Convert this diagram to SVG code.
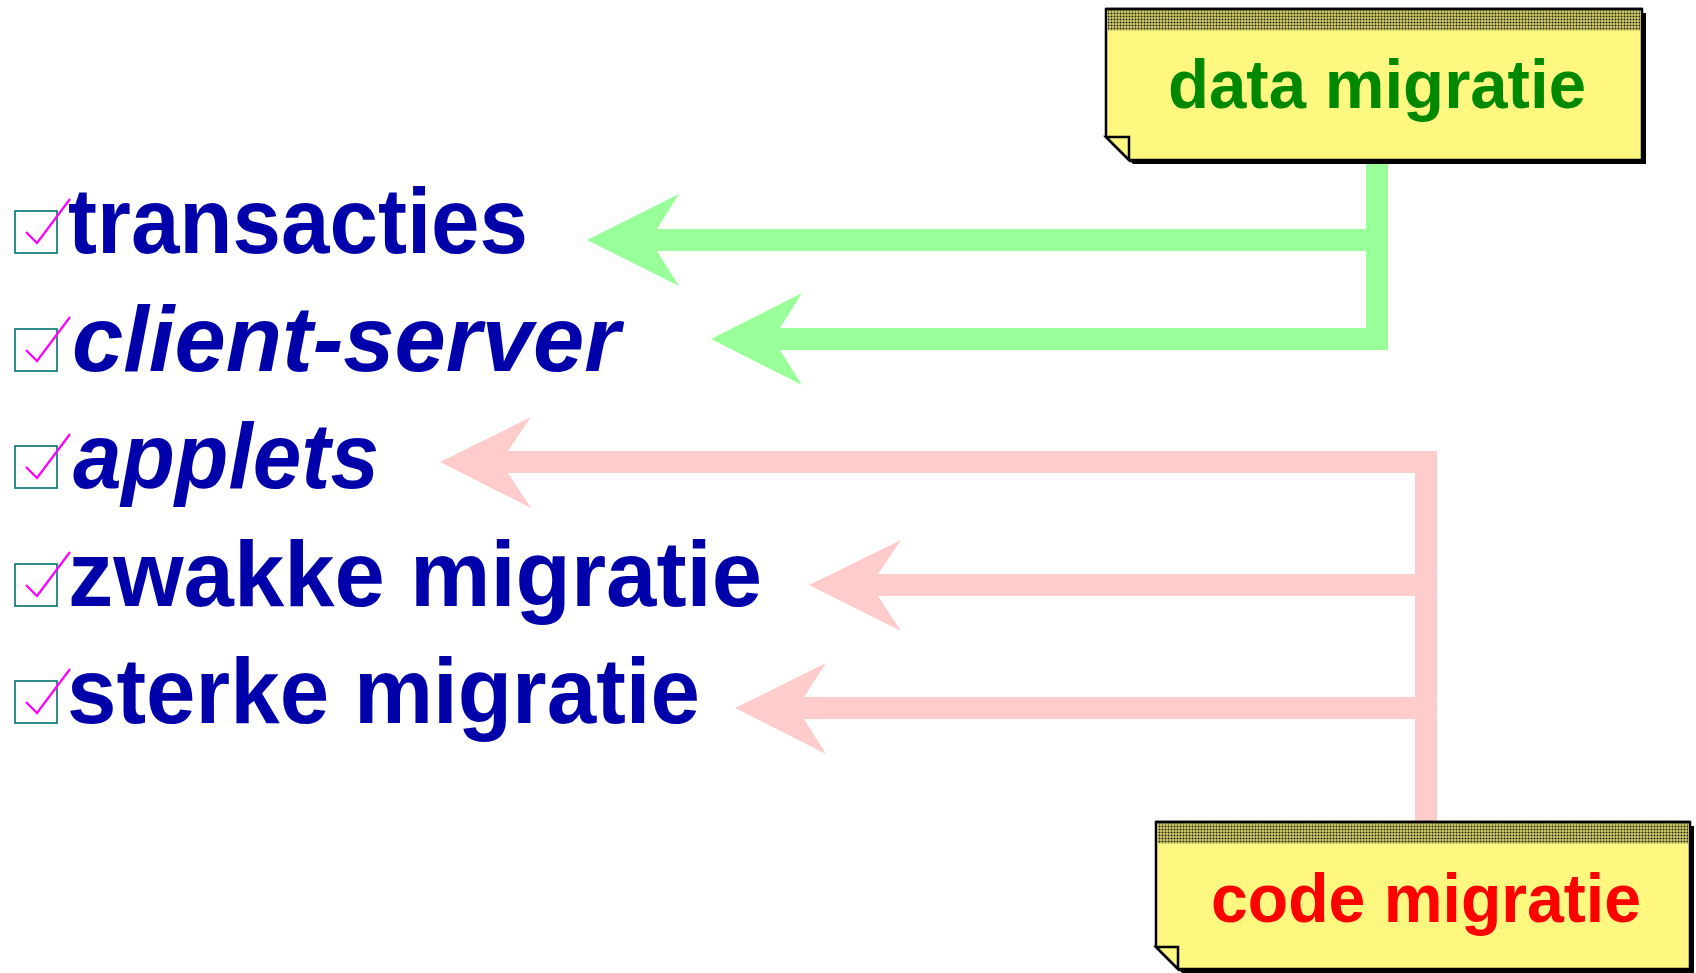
<svg xmlns="http://www.w3.org/2000/svg" width="1696" height="973" viewBox="0 0 1696 973">
  <style>
    .item { font-family: "Liberation Sans", Arial, sans-serif; font-weight: bold; font-size: 92px; fill: #0000aa; }
    .ital { font-style: italic; }
    .box { fill: none; stroke: #007070; stroke-width: 1.6; }
    .tick { fill: none; stroke: #ff00ff; stroke-width: 2.2; stroke-linejoin: miter; }
    .note { fill: #fff880; stroke: #000; stroke-width: 2.5; stroke-linejoin: miter; }
    .shadow { fill: #000; }
    .band { fill: url(#stipple); }
    .flap { fill: #fff880; stroke: #000; stroke-width: 2.5; }
    .noteText { font-family: "Liberation Sans", Arial, sans-serif; font-weight: bold; font-size: 68px; text-anchor: middle; }
    .green { fill: none; stroke: #99ff99; stroke-width: 22; stroke-linejoin: miter; stroke-linecap: butt; }
    .greenHead { fill: #99ff99; }
    .pink { fill: none; stroke: #ffcccc; stroke-width: 22; stroke-linejoin: miter; stroke-linecap: butt; }
    .pinkHead { fill: #ffcccc; }
  </style>
  <defs>
    <!-- halftone stipple for the note header band -->
    <pattern id="stipple" width="3" height="3" patternUnits="userSpaceOnUse">
      <rect width="3" height="3" fill="#fff880"/>
      <rect x="0.5" y="0.5" width="2" height="2" fill="#1a1a08"/>
    </pattern>
  </defs>

  <rect width="1696" height="973" fill="#ffffff"/>

  <!-- connectors -->
  <g id="connectors">
    <!-- data migratie branches -->
    <path class="green" d="M1377,160 V339 H779"/>
    <path class="green" d="M1377,240 H657"/>
    <polygon class="greenHead" points="587,240 679,194 657,229 657,251 679,286"/>
    <polygon class="greenHead" points="711,339 802,293 780,328 780,350 802,385"/>
    <!-- code migratie branches -->
    <path class="pink" d="M1426,822 V462 H508"/>
    <path class="pink" d="M1426,585 H878"/>
    <path class="pink" d="M1426,708 H804"/>
    <polygon class="pinkHead" points="440,462 531,417 508,451 508,473 531,508"/>
    <polygon class="pinkHead" points="809,585 901,540 878,574 878,596 901,631"/>
    <polygon class="pinkHead" points="735,708 826,663 804,697 804,719 826,754"/>
  </g>

  <!-- checklist items -->
  <g id="item-transacties">
    <rect class="box" x="15" y="211" width="42" height="42"/>
    <polyline class="tick" points="26,232 37,243 70,199"/>
    <text class="item" x="68" y="253" textLength="460" lengthAdjust="spacingAndGlyphs">transacties</text>
  </g>
  <g id="item-client-server">
    <rect class="box" x="15" y="329" width="42" height="42"/>
    <polyline class="tick" points="26,350 37,361 70,317"/>
    <text class="item ital" x="72" y="371" textLength="548" lengthAdjust="spacingAndGlyphs">client-server</text>
  </g>
  <g id="item-applets">
    <rect class="box" x="15" y="446" width="42" height="42"/>
    <polyline class="tick" points="26,467 37,478 70,434"/>
    <text class="item ital" x="73" y="488" textLength="306" lengthAdjust="spacingAndGlyphs">applets</text>
  </g>
  <g id="item-zwakke">
    <rect class="box" x="15" y="564" width="42" height="42"/>
    <polyline class="tick" points="26,585 37,596 70,552"/>
    <text class="item" x="68" y="606" textLength="694" lengthAdjust="spacingAndGlyphs">zwakke migratie</text>
  </g>
  <g id="item-sterke">
    <rect class="box" x="15" y="681" width="42" height="42"/>
    <polyline class="tick" points="26,702 37,713 70,669"/>
    <text class="item" x="67" y="723" textLength="633" lengthAdjust="spacingAndGlyphs">sterke migratie</text>
  </g>

  <!-- note: data migratie -->
  <g id="note-data">
    <path class="shadow" d="M1110,13 H1646 V164 H1133 L1110,141 Z"/>
    <path class="note" d="M1106,9 H1642 V160 H1129 L1106,137 Z"/>
    <rect class="band" x="1107.5" y="10.5" width="533" height="20"/>
    <line x1="1106" y1="9" x2="1642" y2="9" stroke="#000" stroke-width="2.5"/>
    <polygon class="flap" points="1106,137 1129,137 1129,160"/>
    <text class="noteText" x="1377" y="108" fill="#008800" textLength="418" lengthAdjust="spacingAndGlyphs">data migratie</text>
  </g>

  <!-- note: code migratie -->
  <g id="note-code">
    <path class="shadow" d="M1160,826 H1694 V973 H1182 L1160,951 Z"/>
    <path class="note" d="M1156,822 H1690 V969 H1178 L1156,947 Z"/>
    <rect class="band" x="1157.5" y="823.5" width="531" height="20"/>
    <line x1="1156" y1="822" x2="1690" y2="822" stroke="#000" stroke-width="2.5"/>
    <polygon class="flap" points="1156,947 1178,947 1178,969"/>
    <text class="noteText" x="1426" y="922" fill="#ff0000" textLength="430" lengthAdjust="spacingAndGlyphs">code migratie</text>
  </g>
</svg>
